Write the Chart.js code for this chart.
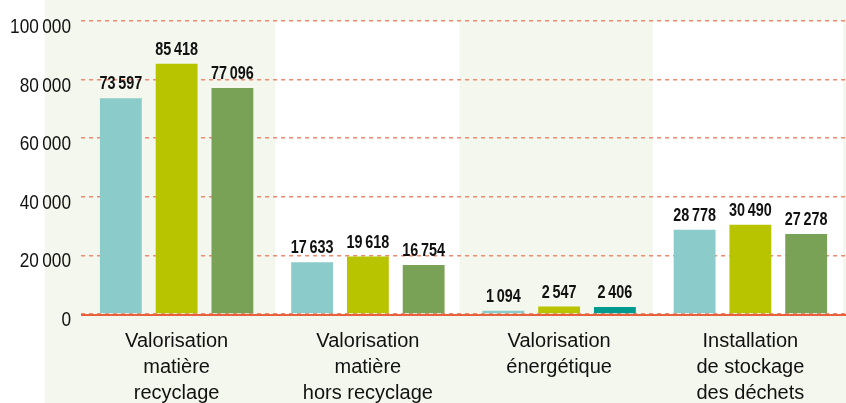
<!DOCTYPE html>
<html>
<head>
<meta charset="utf-8">
<script src="https://cdn.jsdelivr.net/npm/chart.js@4/dist/chart.umd.min.js"></script>
<style>
  html, body { margin: 0; padding: 0; background: #ffffff; overflow: hidden; }
  #wrap { width: 846px; height: 403px; }
</style>
</head>
<body>
<div id="wrap"><canvas id="chart" width="846" height="403"></canvas></div>
<script>

const categories = [
    ["Valorisation", "matière", "recyclage"],
    ["Valorisation", "matière", "hors recyclage"],
    ["Valorisation", "énergétique"],
    ["Installation", "de stockage", "des déchets"]
];
const serieA = [73597, 17633, 1094, 28778];
const serieB = [85418, 19618, 2547, 30490];
const serieC = [77096, 16754, 2406, 27278];
const yTicks = [0, 20000, 40000, 60000, 80000, 100000];

const colA = "#8bcbc9";
const colB = "#b9c400";
const colC = ["#7aa256", "#7aa256", "#009b8f", "#7aa256"];
const band = "#f4f7ed";
const font = '"Liberation Sans", Arial, sans-serif';

function fmt(v) {
    return String(v).replace(/\B(?=(\d{3})+(?!\d))/g, "\u2009");
}

// condensed look: squeeze text horizontally
function narrowText(ctx, txt, x, y, sx) {
    ctx.save();
    ctx.translate(x, y);
    ctx.scale(sx, 1);
    ctx.fillText(txt, 0, 0);
    ctx.restore();
}

// green background, white plot zones for 2nd and 4th group
const bands = {
    id: "bands",
    beforeDraw(chart) {
        const ctx = chart.ctx;
        const x = chart.scales.x;
        const y = chart.scales.y;
        const w = (x.right - x.left) / categories.length;
        const top = y.getPixelForValue(100000);
        const zero = y.getPixelForValue(0);
        ctx.save();
        ctx.fillStyle = band;
        ctx.fillRect(45, 0, chart.width - 45, chart.height);
        ctx.fillStyle = "#ffffff";
        ctx.fillRect(x.left + w + 3, top, w - 7, zero - top);
        ctx.fillRect(x.left + 3 * w - 2, top, w - 1, zero - top);
        ctx.restore();
    }
};

// zero line, y tick labels, values above bars
const extras = {
    id: "extras",
    afterDatasetsDraw(chart) {
        const ctx = chart.ctx;
        const y = chart.scales.y;
        const zero = y.getPixelForValue(0);
        ctx.save();
        ctx.strokeStyle = "#e9603c";
        ctx.lineWidth = 2;
        ctx.beginPath();
        ctx.moveTo(chart.chartArea.left, zero + 1);
        ctx.lineTo(chart.chartArea.right, zero + 1);
        ctx.stroke();

        ctx.fillStyle = "#111111";
        ctx.font = "21px " + font;
        ctx.textAlign = "right";
        ctx.textBaseline = "alphabetic";
        yTicks.forEach(v => {
            narrowText(ctx, fmt(v), 71, y.getPixelForValue(v) + 12, 0.82);
        });

        ctx.font = "bold 18px " + font;
        ctx.textAlign = "center";
        chart.data.datasets.forEach((ds, i) => {
            chart.getDatasetMeta(i).data.forEach((bar, j) => {
                narrowText(ctx, fmt(ds.data[j]), bar.x, bar.y - 9, 0.8);
            });
        });
        ctx.restore();
    }
};

new Chart(document.getElementById("chart"), {
    type: "bar",
    data: {
        labels: categories,
        datasets: [
            { data: serieA, backgroundColor: colA },
            { data: serieB, backgroundColor: colB },
            { data: serieC, backgroundColor: colC }
        ]
    },
    options: {
        responsive: false,
        animation: false,
        events: [],
        categoryPercentage: 0.875,
        barPercentage: 0.75,
        layout: { padding: { top: 21, left: 0, right: 0, bottom: 0 } },
        plugins: { legend: { display: false }, tooltip: { enabled: false } },
        scales: {
            x: {
                grid: { display: false },
                border: { display: false },
                ticks: {
                    color: "#111111",
                    padding: 6,
                    font: { family: font, size: 20, lineHeight: "26px" }
                },
                afterFit(scale) { scale.height = 89; }
            },
            y: {
                min: 0,
                max: 100000,
                afterBuildTicks(scale) { scale.ticks = yTicks.map(v => ({ value: v })); },
                grid: {
                    drawTicks: false,
                    color: "#ef8a70",
                    lineWidth: 1.5
                },
                border: { display: false, dash: [4, 4] },
                ticks: { display: false },
                afterFit(scale) { scale.width = 81; }
            }
        }
    },
    plugins: [bands, extras]
});
</script>
</body>
</html>
